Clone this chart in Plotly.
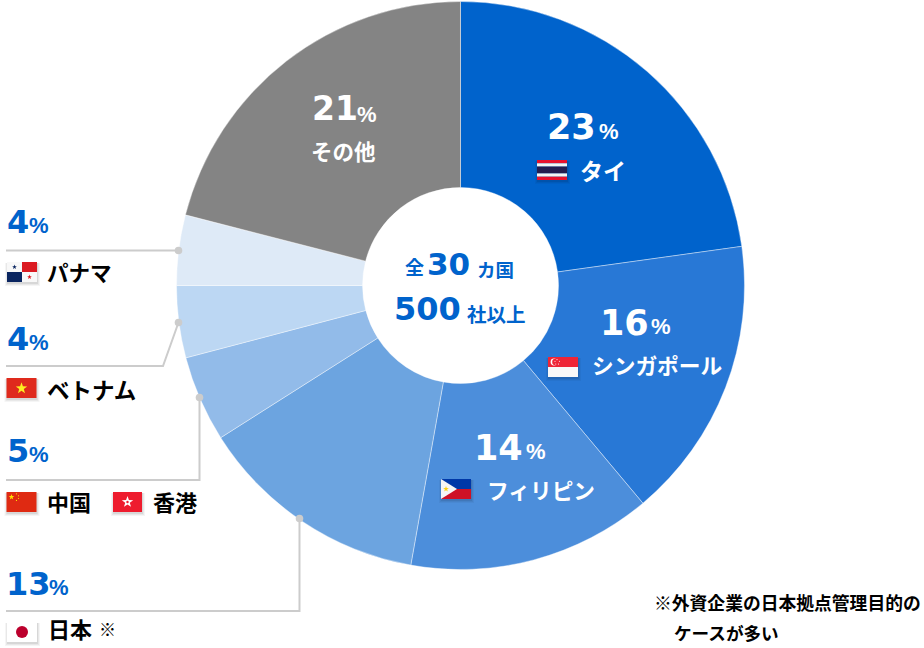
import plotly.graph_objects as go
import math

W, H = 924, 648
countries = ["タイ", "シンガポール", "フィリピン", "日本", "中国・香港", "ベトナム", "パナマ", "その他"]
shares = [22.8, 16.1, 13.9, 13.2, 4.9, 4.1, 4.0, 21.0]
colors = ["#0063cc", "#2878d6", "#4c8edb", "#6ca4e0", "#92bbe9", "#bcd7f3", "#deeaf7", "#848484"]

NUM = "DejaVu Sans"
LAT = "Liberation Sans"
JP = "Noto Sans CJK JP"
BLUE = "#0063cc"

# text, x, y, size, color, font
texts = [
    ("21", 311, 109, 33, "white", NUM), ("%", 356, 114, 22, "white", LAT), ("その他", 310, 150, 21.5, "white", JP),
    ("23", 546, 127, 35, "white", NUM), ("%", 598, 131, 22, "white", LAT), ("タイ", 579, 170, 23, "white", JP),
    ("16", 599, 323, 35, "white", NUM), ("%", 650, 326, 22, "white", LAT), ("シンガポール", 591, 365, 21.7, "white", JP),
    ("14", 473, 448, 35, "white", NUM), ("%", 525, 451, 22, "white", LAT), ("フィリピン", 486, 489, 21.7, "white", JP),
    ("全", 404, 267, 19, BLUE, JP), ("30", 426, 264, 31, BLUE, NUM), ("カ国", 476, 269, 18.5, BLUE, JP),
    ("500", 393, 309, 32, BLUE, NUM), ("社以上", 466, 313, 19.5, BLUE, JP),
    ("4", 5.5, 221.5, 32, BLUE, NUM), ("%", 27.5, 225.5, 22, BLUE, LAT), ("パナマ", 46, 271, 21.5, "black", JP),
    ("4", 5.5, 338.5, 32, BLUE, NUM), ("%", 27.5, 342.5, 22, BLUE, LAT), ("ベトナム", 46, 389, 22.5, "black", JP),
    ("5", 5.5, 450.5, 32, BLUE, NUM), ("%", 27.5, 454.5, 22, BLUE, LAT), ("中国", 46, 501, 22, "black", JP), ("香港", 152, 501, 22, "black", JP),
    ("13", 4.5, 583.5, 32, BLUE, NUM), ("%", 47.5, 587.5, 22, BLUE, LAT), ("日本", 47, 628, 22, "black", JP), ("※", 98, 628, 17, "black", JP),
    ("※外資企業の日本拠点管理目的の", 653, 602, 17.8, "black", JP), ("ケースが多い", 673, 632, 17.6, "black", JP),
]

leaders = [
    [(6, 250.5), (178.5, 250.5)],
    [(6, 366), (163, 366), (178.5, 322.5)],
    [(6, 480), (199.5, 480), (199.5, 397.5)],
    [(6, 611), (299.5, 611), (299.5, 518.5)],
]

def px(x): return x / W
def py(y): return 1 - y / H

shapes = []
def rect(x0, y0, x1, y1, color):
    shapes.append(dict(type="rect", xref="paper", yref="paper", x0=px(x0), x1=px(x1), y0=py(y1), y1=py(y0),
                       fillcolor=color, line_width=0, layer="above"))
def circle(cx, cy, r, color):
    shapes.append(dict(type="circle", xref="paper", yref="paper", x0=px(cx-r), x1=px(cx+r), y0=py(cy+r), y1=py(cy-r),
                       fillcolor=color, line_width=0, layer="above"))
def poly(points, color, closed=True, width=0):
    d = "M " + " L ".join(f"{px(x):.5f},{py(y):.5f}" for x, y in points) + (" Z" if closed else "")
    s = dict(type="path", xref="paper", yref="paper", path=d, layer="above")
    if closed:
        s.update(fillcolor=color, line_width=0)
    else:
        s.update(line=dict(color=color, width=width))
    shapes.append(s)
def star(cx, cy, r, color):
    pts = []
    for i in range(10):
        a = -math.pi/2 + i*math.pi/5
        rr = r if i % 2 == 0 else r*0.4
        pts.append((cx + rr*math.cos(a), cy + rr*math.sin(a)))
    poly(pts, color)
def shadow(x0, y0, x1, y1):
    for d, a in ((3, .04), (2, .05), (1, .07)):
        rect(x0-d+1, y0+1, x1+d, y1+d+1, f"rgba(0,0,0,{a})")

# flags
x, y = 537, 160  # Thailand
shadow(x, y, x+30, y+20)
for y0, y1, c in ((0, 3.3, "#e8112d"), (3.3, 6.6, "#f4f4f4"), (6.6, 13.4, "#241d4f"), (13.4, 16.7, "#f4f4f4"), (16.7, 20, "#e8112d")):
    rect(x, y+y0, x+30, y+y1, c)
x, y = 548, 357  # Singapore
shadow(x, y, x+30, y+20)
rect(x, y, x+30, y+10, "#ee2536"); rect(x, y+10, x+30, y+20, "#f8f8f8")
circle(x+6, y+5, 3.4, "white"); circle(x+7.4, y+5, 3.2, "#ee2536")
for dx, dy in ((9, 2.6), (11.4, 4.2), (10.5, 7), (7.8, 7), (7, 4.2)):
    circle(x+dx, y+dy, .55, "white")
x, y = 441, 479  # Philippines
shadow(x, y, x+30, y+20)
rect(x, y, x+30, y+10, "#0038a8"); rect(x, y+10, x+30, y+20, "#ce1126")
poly([(x, y), (x+16, y+10), (x, y+20)], "#f6f6f6")
star(x+5, y+10, 3, "#fcd116")
x, y = 7, 262  # Panama
shadow(x, y, x+30, y+20)
rect(x, y, x+15, y+10, "#f8f8f8"); rect(x+15, y, x+30, y+10, "#db1a21")
rect(x, y+10, x+15, y+20, "#0a2560"); rect(x+15, y+10, x+30, y+20, "#f8f8f8")
star(x+7.5, y+5, 2.5, "#0a2560"); star(x+22.5, y+15, 2.5, "#db1a21")
x, y = 6.5, 378  # Vietnam
shadow(x, y, x+30, y+20)
rect(x, y, x+30, y+20, "#df2a1d"); star(x+15, y+10.3, 6, "#fcee21")
x, y = 6.5, 492  # China
shadow(x, y, x+30, y+20)
rect(x, y, x+30, y+20, "#df2a12"); star(x+5, y+5, 3, "#ffde00")
for dx, dy in ((10, 1.8), (12, 3.8), (12, 6.5), (10, 8.4)):
    circle(x+dx, y+dy, .6, "#ffde00")
x, y = 113, 492  # Hong Kong
shadow(x, y, x+29, y+20)
rect(x, y, x+29, y+20, "#ee1c2e"); star(x+14.5, y+10, 6, "white")
circle(x+14.5, y+10, 1.2, "#ee1c2e")
x, y = 7, 622  # Japan
shadow(x, y, x+30, y+20)
rect(x, y, x+30, y+20, "white"); circle(x+15, y+10, 6, "#bc002d")

# leader lines
for pts in leaders:
    poly(pts, "#cccccc", closed=False, width=2)
    circle(pts[-1][0], pts[-1][1], 3.8, "#cccccc")

fig = go.Figure(go.Pie(
    labels=countries, values=shares, sort=False, direction="clockwise", rotation=0,
    hole=0.345, textinfo="none", marker=dict(colors=colors, line=dict(color="white", width=0.4)),
    domain=dict(x=[176.5/W, 744.5/W], y=[1-569.5/H, 1-1.5/H]),
))

fig.update_layout(
    width=W, height=H, margin=dict(l=0, r=0, t=0, b=0), showlegend=False,
    paper_bgcolor="white", plot_bgcolor="white", shapes=shapes,
    annotations=[dict(text=t, x=px(x), y=py(y), xref="paper", yref="paper", xanchor="left", yanchor="middle",
                      showarrow=False, align="left", borderpad=0,
                      font=dict(size=s, color=c, family=f, weight=700))
                 for t, x, y, s, c, f in texts],
)
fig.write_html("out.html", config=dict(displayModeBar=False),
               post_script="document.body.style.margin='0';document.body.style.overflow='hidden';")
